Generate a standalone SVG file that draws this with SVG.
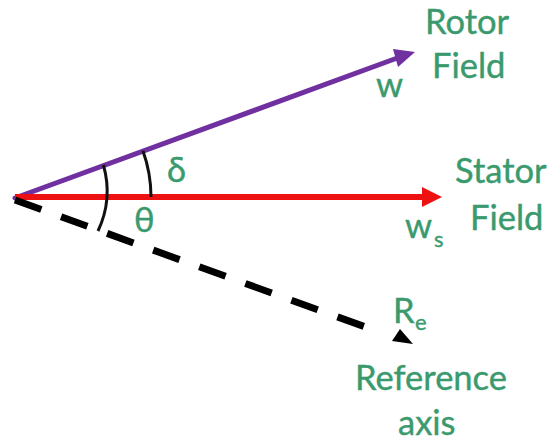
<svg xmlns="http://www.w3.org/2000/svg" width="552" height="444" viewBox="0 0 552 444">
<style>
.lbl{font-family:Lato,"Open Sans","Liberation Sans",sans-serif;font-size:34.5px;fill:#3a9a6e;stroke:#3a9a6e;stroke-width:0.4}
.sub{font-size:22px}
.arc{fill:none;stroke:#111;stroke-width:3}
</style>
<rect width="552" height="444" fill="#fff"/>
<g id="connectors">
<line x1="15" y1="198" x2="400" y2="57" stroke="#7030a0" stroke-width="5" stroke-linecap="round"/>
<polygon points="393,49 415,52 398,67" fill="#7030a0"/>
<line x1="15" y1="197" x2="424" y2="197" stroke="#ee1111" stroke-width="6"/>
<polygon points="422,187 442,197 422,207" fill="#ee1111"/>
<line x1="15" y1="200" x2="382" y2="333" stroke="#000" stroke-width="7" stroke-dasharray="28,21"/>
<polygon points="392,341 400,329 413,344" fill="#000"/>
<path class="arc" d="M142.9,150.7 A136,136 0 0 1 151,197"/>
<path class="arc" d="M103.4,165 A94,94 0 0 1 98,231"/>
</g>
<g id="rotor-label"><text class="lbl" x="425" y="34">Rotor</text><text class="lbl" x="432" y="78">Field</text></g>
<g id="w-label"><text class="lbl" x="376" y="97">w</text></g>
<g id="delta-label"><text class="lbl" x="167" y="182">δ</text></g>
<g id="theta-label"><text class="lbl" x="134" y="232">θ</text></g>
<g id="stator-label"><text class="lbl" x="455" y="183">Stator</text><text class="lbl" x="470" y="230">Field</text></g>
<g id="ws-label"><text class="lbl" x="405" y="238">w</text><text class="lbl sub" x="434" y="247">s</text></g>
<g id="re-label"><text class="lbl" x="393" y="323">R</text><text class="lbl sub" x="415" y="330">e</text></g>
<g id="reference-label"><text class="lbl" x="355" y="390">Reference</text><text class="lbl" x="398" y="435">axis</text></g>
</svg>
